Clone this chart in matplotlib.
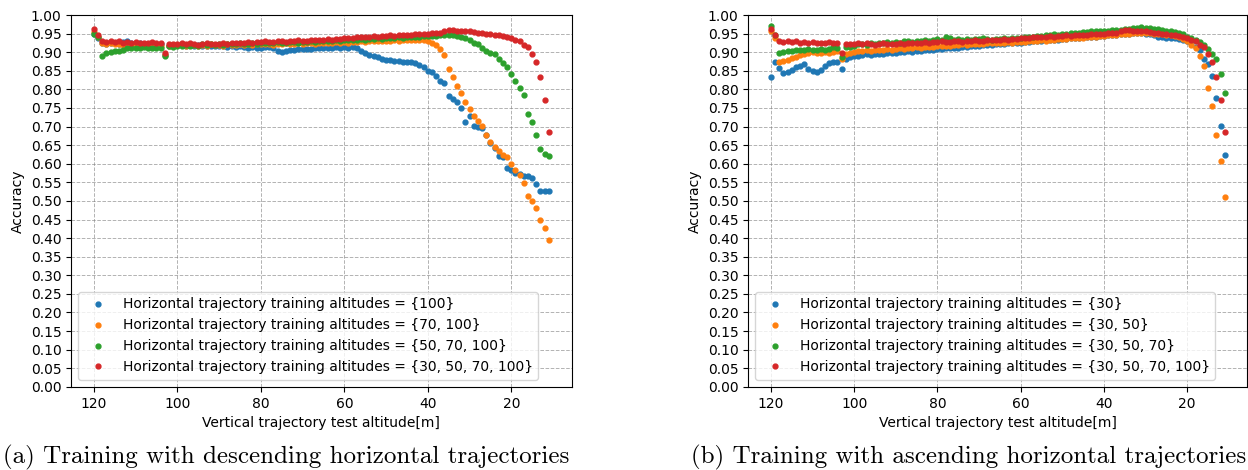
import numpy as np
import matplotlib
matplotlib.use('Agg')
import matplotlib.pyplot as plt

# 測試高度 (m)
altitude = list(range(120, 10, -1))

# {30, 50, 70, 100} 兩張圖共用
acc_30_50_70_100 = [
    0.962, 0.946, 0.931, 0.928, 0.929, 0.927, 0.930, 0.926, 0.928, 0.925,
    0.927, 0.924, 0.926, 0.925, 0.927, 0.924, 0.926, 0.897, 0.921, 0.923,
    0.922, 0.924, 0.921, 0.926, 0.923, 0.920, 0.922, 0.924, 0.921, 0.923,
    0.922, 0.924, 0.922, 0.925, 0.924, 0.926, 0.925, 0.927, 0.926, 0.928,
    0.927, 0.929, 0.928, 0.927, 0.930, 0.929, 0.928, 0.931, 0.930, 0.932,
    0.931, 0.930, 0.933, 0.932, 0.934, 0.933, 0.935, 0.934, 0.936, 0.935,
    0.937, 0.939, 0.938, 0.941, 0.940, 0.942, 0.941, 0.943, 0.942, 0.944,
    0.943, 0.945, 0.944, 0.946, 0.945, 0.947, 0.946, 0.948, 0.948, 0.949,
    0.950, 0.951, 0.952, 0.953, 0.957, 0.959, 0.960, 0.958, 0.958, 0.957,
    0.956, 0.954, 0.953, 0.951, 0.950, 0.949, 0.947, 0.945, 0.943, 0.940,
    0.937, 0.933, 0.929, 0.920, 0.913, 0.895, 0.873, 0.834, 0.772, 0.686]

# (a) 下降
acc_a_100 = [
    0.950, 0.938, 0.925, 0.922, 0.926, 0.924, 0.921, 0.928, 0.931, 0.925,
    0.922, 0.924, 0.921, 0.923, 0.920, 0.922, 0.921, 0.893, 0.918, 0.920,
    0.919, 0.921, 0.918, 0.920, 0.917, 0.919, 0.918, 0.916, 0.918, 0.917,
    0.916, 0.918, 0.915, 0.917, 0.914, 0.916, 0.913, 0.912, 0.914, 0.912,
    0.910, 0.913, 0.915, 0.910, 0.903, 0.901, 0.904, 0.907, 0.906, 0.908,
    0.908, 0.909, 0.908, 0.910, 0.911, 0.910, 0.912, 0.911, 0.913, 0.912,
    0.913, 0.912, 0.914, 0.911, 0.904, 0.897, 0.893, 0.889, 0.886, 0.883,
    0.879, 0.878, 0.876, 0.877, 0.875, 0.875, 0.874, 0.871, 0.866, 0.859,
    0.850, 0.848, 0.835, 0.822, 0.816, 0.781, 0.774, 0.767, 0.749, 0.713,
    0.729, 0.702, 0.700, 0.695, 0.676, 0.656, 0.642, 0.620, 0.617, 0.589,
    0.584, 0.575, 0.573, 0.568, 0.566, 0.562, 0.546, 0.526, 0.526, 0.526]

acc_a_70_100 = [
    0.955, 0.940, 0.925, 0.922, 0.924, 0.921, 0.923, 0.920, 0.922, 0.919,
    0.921, 0.918, 0.920, 0.917, 0.919, 0.916, 0.918, 0.893, 0.918, 0.920,
    0.919, 0.921, 0.918, 0.920, 0.919, 0.917, 0.920, 0.918, 0.921, 0.919,
    0.920, 0.918, 0.921, 0.919, 0.920, 0.922, 0.920, 0.921, 0.919, 0.922,
    0.921, 0.923, 0.922, 0.920, 0.923, 0.922, 0.924, 0.923, 0.922, 0.924,
    0.923, 0.925, 0.924, 0.923, 0.925, 0.924, 0.926, 0.925, 0.927, 0.926,
    0.927, 0.926, 0.928, 0.927, 0.929, 0.928, 0.930, 0.929, 0.931, 0.930,
    0.931, 0.930, 0.932, 0.931, 0.933, 0.932, 0.933, 0.932, 0.934, 0.933,
    0.931, 0.925, 0.920, 0.909, 0.892, 0.856, 0.832, 0.810, 0.790, 0.765,
    0.747, 0.729, 0.716, 0.702, 0.677, 0.659, 0.644, 0.633, 0.624, 0.619,
    0.598, 0.584, 0.570, 0.548, 0.514, 0.499, 0.480, 0.450, 0.426, 0.396]

acc_a_50_70_100 = [
    0.948, 0.942, 0.891, 0.898, 0.900, 0.902, 0.904, 0.905, 0.911, 0.910,
    0.912, 0.910, 0.913, 0.911, 0.910, 0.912, 0.912, 0.889, 0.917, 0.915,
    0.918, 0.916, 0.919, 0.917, 0.920, 0.918, 0.921, 0.919, 0.922, 0.920,
    0.921, 0.919, 0.922, 0.923, 0.921, 0.924, 0.922, 0.923, 0.925, 0.923,
    0.924, 0.926, 0.925, 0.924, 0.927, 0.926, 0.925, 0.928, 0.927, 0.926,
    0.928, 0.927, 0.929, 0.928, 0.930, 0.929, 0.931, 0.930, 0.932, 0.931,
    0.933, 0.932, 0.934, 0.933, 0.935, 0.934, 0.936, 0.935, 0.937, 0.936,
    0.938, 0.937, 0.939, 0.940, 0.939, 0.941, 0.940, 0.942, 0.941, 0.943,
    0.943, 0.943, 0.944, 0.946, 0.947, 0.947, 0.945, 0.943, 0.941, 0.938,
    0.933, 0.925, 0.922, 0.910, 0.902, 0.898, 0.895, 0.883, 0.871, 0.859,
    0.841, 0.822, 0.805, 0.786, 0.735, 0.711, 0.678, 0.641, 0.625, 0.621]

# (b) 上升
acc_b_30 = [
    0.834, 0.873, 0.858, 0.844, 0.848, 0.852, 0.860, 0.864, 0.869, 0.855,
    0.850, 0.846, 0.852, 0.864, 0.870, 0.873, 0.873, 0.855, 0.883, 0.886,
    0.889, 0.891, 0.892, 0.894, 0.893, 0.895, 0.896, 0.895, 0.897, 0.898,
    0.899, 0.900, 0.901, 0.902, 0.901, 0.903, 0.904, 0.905, 0.906, 0.907,
    0.908, 0.909, 0.910, 0.911, 0.912, 0.912, 0.914, 0.915, 0.916, 0.917,
    0.918, 0.919, 0.920, 0.920, 0.921, 0.922, 0.923, 0.924, 0.925, 0.925,
    0.926, 0.927, 0.928, 0.929, 0.930, 0.931, 0.932, 0.932, 0.933, 0.934,
    0.935, 0.936, 0.937, 0.938, 0.939, 0.940, 0.941, 0.941, 0.942, 0.943,
    0.944, 0.945, 0.946, 0.947, 0.948, 0.949, 0.950, 0.951, 0.952, 0.951,
    0.950, 0.948, 0.945, 0.942, 0.940, 0.939, 0.938, 0.937, 0.936, 0.934,
    0.930, 0.925, 0.915, 0.905, 0.882, 0.868, 0.835, 0.776, 0.702, 0.624]

acc_b_30_50 = [
    0.958, 0.938, 0.874, 0.877, 0.880, 0.884, 0.887, 0.893, 0.895, 0.898,
    0.900, 0.899, 0.898, 0.901, 0.899, 0.900, 0.902, 0.882, 0.896, 0.899,
    0.901, 0.903, 0.902, 0.905, 0.904, 0.906, 0.905, 0.907, 0.908, 0.907,
    0.909, 0.910, 0.909, 0.911, 0.912, 0.913, 0.912, 0.914, 0.915, 0.914,
    0.916, 0.917, 0.918, 0.917, 0.919, 0.920, 0.921, 0.920, 0.922, 0.921,
    0.923, 0.922, 0.924, 0.925, 0.924, 0.926, 0.925, 0.927, 0.926, 0.928,
    0.927, 0.928, 0.929, 0.930, 0.931, 0.932, 0.931, 0.933, 0.934, 0.935,
    0.936, 0.935, 0.937, 0.938, 0.939, 0.938, 0.940, 0.941, 0.942, 0.943,
    0.944, 0.945, 0.946, 0.947, 0.948, 0.949, 0.950, 0.951, 0.952, 0.953,
    0.953, 0.952, 0.950, 0.949, 0.948, 0.946, 0.945, 0.943, 0.941, 0.936,
    0.930, 0.920, 0.910, 0.889, 0.862, 0.804, 0.754, 0.676, 0.607, 0.510]

acc_b_30_50_70 = [
    0.971, 0.945, 0.898, 0.900, 0.902, 0.903, 0.905, 0.906, 0.905, 0.908,
    0.907, 0.906, 0.909, 0.905, 0.908, 0.913, 0.911, 0.886, 0.913, 0.915,
    0.918, 0.921, 0.923, 0.920, 0.925, 0.922, 0.926, 0.924, 0.927, 0.925,
    0.928, 0.926, 0.929, 0.930, 0.928, 0.931, 0.930, 0.932, 0.931, 0.933,
    0.935, 0.934, 0.940, 0.938, 0.934, 0.935, 0.933, 0.935, 0.934, 0.936,
    0.935, 0.937, 0.936, 0.934, 0.936, 0.935, 0.937, 0.936, 0.938, 0.937,
    0.939, 0.941, 0.940, 0.942, 0.944, 0.943, 0.945, 0.946, 0.948, 0.947,
    0.949, 0.950, 0.952, 0.951, 0.953, 0.955, 0.954, 0.956, 0.957, 0.958,
    0.958, 0.957, 0.959, 0.960, 0.961, 0.962, 0.963, 0.965, 0.966, 0.967,
    0.966, 0.965, 0.963, 0.962, 0.960, 0.958, 0.957, 0.955, 0.952, 0.948,
    0.940, 0.937, 0.933, 0.928, 0.920, 0.909, 0.895, 0.883, 0.841, 0.789]

labels_a = ['Horizontal trajectory training altitudes = {100}',
            'Horizontal trajectory training altitudes = {70, 100}',
            'Horizontal trajectory training altitudes = {50, 70, 100}',
            'Horizontal trajectory training altitudes = {30, 50, 70, 100}']
labels_b = ['Horizontal trajectory training altitudes = {30}',
            'Horizontal trajectory training altitudes = {30, 50}',
            'Horizontal trajectory training altitudes = {30, 50, 70}',
            'Horizontal trajectory training altitudes = {30, 50, 70, 100}']

series_a = [acc_a_100, acc_a_70_100, acc_a_50_70_100, acc_30_50_70_100]
series_b = [acc_b_30, acc_b_30_50, acc_b_30_50_70, acc_30_50_70_100]

fig = plt.figure(figsize=(12.48, 4.70), dpi=100)
ax1 = fig.add_axes([0.057, 0.177, 0.401, 0.791])
ax2 = fig.add_axes([0.5995, 0.177, 0.4, 0.791])

for ax, series, labels in [(ax1, series_a, labels_a), (ax2, series_b, labels_b)]:
    for acc, lab in zip(series, labels):
        ax.plot(altitude, acc, '.', markersize=7, label=lab)
    ax.invert_xaxis()
    ax.set_ylim(0, 1.0)
    ax.set_yticks(np.arange(0, 1.0001, 0.05))
    ax.yaxis.set_major_formatter(plt.FormatStrFormatter('%.2f'))
    ax.grid(True, linestyle='--', color='gray', alpha=0.6, linewidth=0.7)
    ax.set_axisbelow(True)
    ax.set_xlabel('Vertical trajectory test altitude[m]')
    ax.set_ylabel('Accuracy')
    ax.legend(loc='lower left')

# 子圖標題
fig.text(0.229, 0.026, '(a) Training with descending horizontal trajectories',
         family='cmr10', fontsize=18, ha='center', va='center')
fig.text(0.776, 0.026, '(b) Training with ascending horizontal trajectories',
         family='cmr10', fontsize=18, ha='center', va='center')

fig.savefig('out.png', dpi=100)
